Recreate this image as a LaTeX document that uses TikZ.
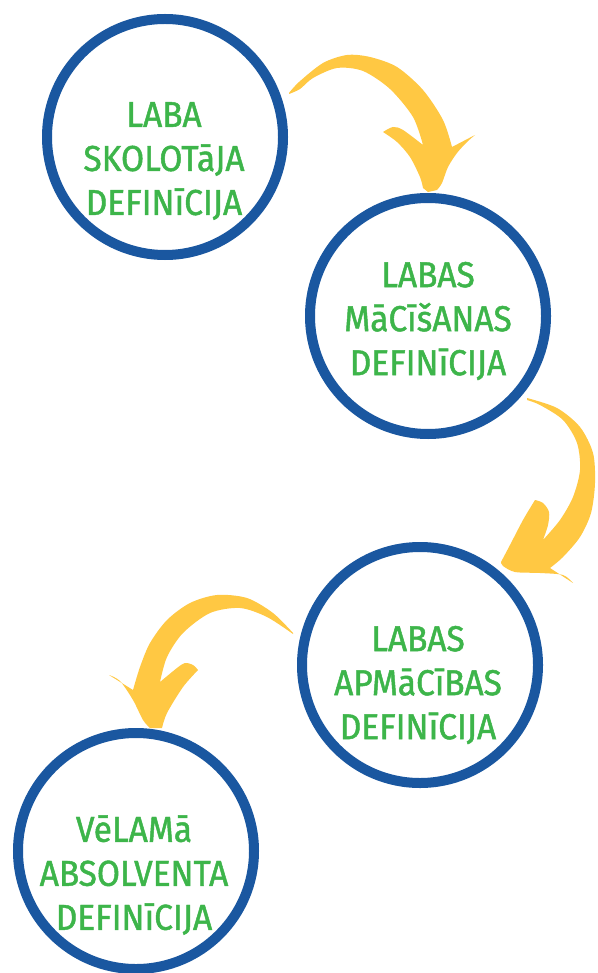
\documentclass[tikz,border=0pt]{standalone}
\usepackage{fontspec}
\setmainfont[FakeStretch=0.93,FakeBold=1.3]{Fira Sans}
\definecolor{cblue}{HTML}{1A57A0}
\definecolor{cgreen}{HTML}{3DB54A}
\definecolor{cyel}{HTML}{FFC843}
\begin{document}
\begin{tikzpicture}[x=1pt,y=-1pt,
  ring/.style={circle, draw=cblue, line width=10pt, minimum size=236pt, inner sep=0pt},
  lbl/.style={text=cgreen, align=center, font=\fontsize{36}{44}\selectfont},
  arrowshape/.style={fill=cyel}]
\useasboundingbox (0,0) rectangle (597,973);
\fill[white] (0,0) rectangle (597,973);

\node[ring] (c1) at (165,137) {};
\node[ring] (c2) at (428,316) {};
\node[ring] (c3) at (420,665) {};
\node[ring] (c4) at (136,851) {};

\node[lbl] (t1) at (164,161) {LABA\\SKOLOTāJA\\DEFINīCIJA};
\node[lbl] (t2) at (428,321) {LABAS\\MāCīšANAS\\DEFINīCIJA};
\node[lbl] (t3) at (418,685) {LABAS\\APMāCīBAS\\DEFINīCIJA};
\node[lbl] (t4) at (134,875) {VēLAMā\\ABSOLVENTA\\DEFINīCIJA};

% arrow 1
\fill[arrowshape] plot[smooth] coordinates {(289,93) (299,82) (323,63) (347,55) (370,57) (397,67) (423,90) (443,120) (452,147)}
  -- plot[smooth] coordinates {(475,135) (467,142) (457,153) (448,167) (442,183) (437,190)}
  -- (428,192) -- (423,188)
  -- plot[smooth] coordinates {(423,188) (420,177) (410,157) (397,142) (383,132)}
  -- plot[smooth] coordinates {(383,132) (393,127) (403,130) (423,145)}
  -- plot[smooth] coordinates {(423,145) (413,117) (390,89) (363,71) (337,68) (313,78) (300,89) (289,94)}
  -- cycle;

% arrow 2
\fill[arrowshape] plot[smooth] coordinates {(527,398) (557,408) (580,427) (593,453) (595,483) (591,513) (580,537) (563,557) (550,568)}
  -- plot[smooth] coordinates {(573,583) (563,575) (540,573) (515,572) (503,566) (501,562)}
  -- plot[smooth] coordinates {(501,562) (510,545) (523,520) (535,500)}
  -- plot[smooth] coordinates {(535,500) (543,503) (549,512) (548,525) (543,540)}
  -- plot[smooth] coordinates {(543,540) (560,520) (573,497) (580,470) (577,443) (563,420) (540,405) (527,400)}
  -- cycle;

% arrow 3
\fill[arrowshape] plot[smooth] coordinates {(293,633) (273,613) (247,598) (217,595) (190,603) (167,620) (150,643) (140,667) (133,690)}
  -- plot[smooth] coordinates {(109,675) (120,681) (133,700) (143,720) (150,728)}
  -- (162,728)
  -- plot[smooth] coordinates {(162,728) (167,713) (183,687) (198,670)}
  -- plot[smooth] coordinates {(198,670) (193,665) (185,663) (177,668) (160,682)}
  -- plot[smooth] coordinates {(160,682) (167,657) (183,633) (210,613) (240,608) (267,617) (293,634)}
  -- cycle;
\end{tikzpicture}
\end{document}
